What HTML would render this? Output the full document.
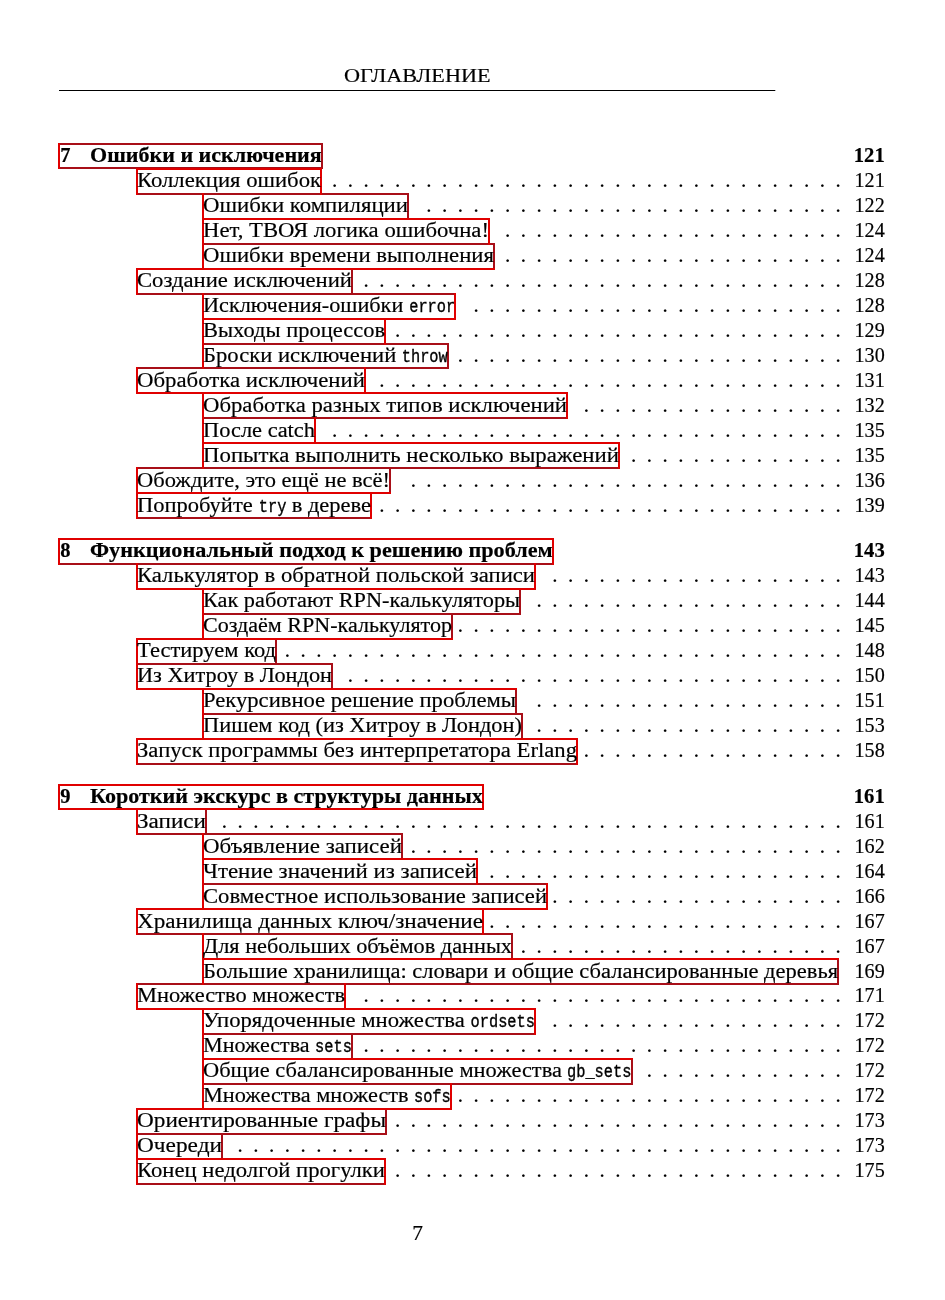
<!DOCTYPE html>
<html lang="ru"><head><meta charset="utf-8"><title>ОГЛАВЛЕНИЕ</title>
<style>
html,body{margin:0;padding:0;background:#fff;}
body{width:945px;height:1300px;position:relative;overflow:hidden;font-family:"Liberation Serif",serif;color:#000;}
.t{position:absolute;white-space:nowrap;font-size:20.5px;line-height:1;transform-origin:0 0;-webkit-text-stroke:0.18px #000;}
.b{font-weight:bold;}
.m{font-family:"Liberation Mono",monospace;font-size:17.6px;-webkit-text-stroke:0.35px #000;}
.n{position:absolute;white-space:nowrap;font-size:20.5px;line-height:1;text-align:right;transform-origin:100% 0;-webkit-text-stroke:0.18px #000;}
svg{position:absolute;left:0;top:0;mix-blend-mode:multiply;}
</style></head><body>
<div class="t" id="hdr" style="left:344.4px;top:66.02px;font-size:19.8px;transform:scaleX(1.1231)">ОГЛАВЛЕНИЕ</div>
<div class="t b" id="c0" style="left:60.20px;top:145.00px;transform:scaleX(1.0000)">7</div><div class="t b" id="r0" style="left:90.30px;top:145.00px;transform:scaleX(1.0753)">Ошибки и исключения</div><div class="n b" id="p0" style="right:60.55px;top:145.00px;transform:scaleX(1.0081)">121</div>
<div class="t" id="r1" style="left:137.00px;top:170.00px;transform:scaleX(1.1065)">Коллекция ошибок</div><div class="n" id="p1" style="right:60.10px;top:170.00px;transform:scaleX(0.9821)">121</div>
<div class="t" id="r2" style="left:203.00px;top:195.00px;transform:scaleX(1.1122)">Ошибки компиляции</div><div class="n" id="p2" style="right:60.10px;top:195.00px;transform:scaleX(0.9821)">122</div>
<div class="t" id="r3" style="left:203.00px;top:220.00px;transform:scaleX(1.1085)">Нет, ТВОЯ логика ошибочна!</div><div class="n" id="p3" style="right:60.10px;top:220.00px;transform:scaleX(0.9821)">124</div>
<div class="t" id="r4" style="left:203.00px;top:245.00px;transform:scaleX(1.1094)">Ошибки времени выполнения</div><div class="n" id="p4" style="right:60.10px;top:245.00px;transform:scaleX(0.9821)">124</div>
<div class="t" id="r5" style="left:137.00px;top:270.00px;transform:scaleX(1.1056)">Создание исключений</div><div class="n" id="p5" style="right:60.10px;top:270.00px;transform:scaleX(0.9821)">128</div>
<div class="t" id="r6" style="left:203.00px;top:295.00px;transform:scaleX(1.0852)">Исключения-ошибки <span class="m" style="display:inline-block;transform-origin:0 50%;transform:scaleX(0.8044);margin-right:-10.33px">error</span></div><div class="n" id="p6" style="right:60.10px;top:295.00px;transform:scaleX(0.9821)">128</div>
<div class="t" id="r7" style="left:203.00px;top:320.00px;transform:scaleX(1.0958)">Выходы процессов</div><div class="n" id="p7" style="right:60.10px;top:320.00px;transform:scaleX(0.9821)">129</div>
<div class="t" id="r8" style="left:203.00px;top:345.00px;transform:scaleX(1.1039)">Броски исключений <span class="m" style="display:inline-block;transform-origin:0 50%;transform:scaleX(0.7908);margin-right:-11.04px">throw</span></div><div class="n" id="p8" style="right:60.10px;top:345.00px;transform:scaleX(0.9821)">130</div>
<div class="t" id="r9" style="left:137.00px;top:370.00px;transform:scaleX(1.1124)">Обработка исключений</div><div class="n" id="p9" style="right:60.10px;top:370.00px;transform:scaleX(0.9821)">131</div>
<div class="t" id="r10" style="left:203.00px;top:395.00px;transform:scaleX(1.1082)">Обработка разных типов исключений</div><div class="n" id="p10" style="right:60.10px;top:395.00px;transform:scaleX(0.9821)">132</div>
<div class="t" id="r11" style="left:203.00px;top:420.00px;transform:scaleX(1.0940)">После catch</div><div class="n" id="p11" style="right:60.10px;top:420.00px;transform:scaleX(0.9821)">135</div>
<div class="t" id="r12" style="left:203.00px;top:445.00px;transform:scaleX(1.1129)">Попытка выполнить несколько выражений</div><div class="n" id="p12" style="right:60.10px;top:445.00px;transform:scaleX(0.9821)">135</div>
<div class="t" id="r13" style="left:137.00px;top:470.00px;transform:scaleX(1.0971)">Обождите, это ещё не всё!</div><div class="n" id="p13" style="right:60.10px;top:470.00px;transform:scaleX(0.9821)">136</div>
<div class="t" id="r14" style="left:137.00px;top:495.00px;transform:scaleX(1.0973)">Попробуйте <span class="m" style="display:inline-block;transform-origin:0 50%;transform:scaleX(0.7956);margin-right:-6.48px">try</span> в дереве</div><div class="n" id="p14" style="right:60.10px;top:495.00px;transform:scaleX(0.9821)">139</div>
<div class="t b" id="c15" style="left:60.20px;top:540.00px;transform:scaleX(1.0000)">8</div><div class="t b" id="r15" style="left:90.30px;top:540.00px;transform:scaleX(1.0831)">Функциональный подход к решению проблем</div><div class="n b" id="p15" style="right:60.55px;top:540.00px;transform:scaleX(1.0081)">143</div>
<div class="t" id="r16" style="left:137.00px;top:565.00px;transform:scaleX(1.1066)">Калькулятор в обратной польской записи</div><div class="n" id="p16" style="right:60.10px;top:565.00px;transform:scaleX(0.9821)">143</div>
<div class="t" id="r17" style="left:203.00px;top:590.00px;transform:scaleX(1.0870)">Как работают RPN-калькуляторы</div><div class="n" id="p17" style="right:60.10px;top:590.00px;transform:scaleX(0.9821)">144</div>
<div class="t" id="r18" style="left:203.00px;top:615.00px;transform:scaleX(1.0757)">Создаём RPN-калькулятор</div><div class="n" id="p18" style="right:60.10px;top:615.00px;transform:scaleX(0.9821)">145</div>
<div class="t" id="r19" style="left:137.00px;top:640.00px;transform:scaleX(1.0984)">Тестируем код</div><div class="n" id="p19" style="right:60.10px;top:640.00px;transform:scaleX(0.9821)">148</div>
<div class="t" id="r20" style="left:137.00px;top:665.00px;transform:scaleX(1.0882)">Из Хитроу в Лондон</div><div class="n" id="p20" style="right:60.10px;top:665.00px;transform:scaleX(0.9821)">150</div>
<div class="t" id="r21" style="left:203.00px;top:690.00px;transform:scaleX(1.1032)">Рекурсивное решение проблемы</div><div class="n" id="p21" style="right:60.10px;top:690.00px;transform:scaleX(0.9821)">151</div>
<div class="t" id="r22" style="left:203.00px;top:715.00px;transform:scaleX(1.0929)">Пишем код (из Хитроу в Лондон)</div><div class="n" id="p22" style="right:60.10px;top:715.00px;transform:scaleX(0.9821)">153</div>
<div class="t" id="r23" style="left:137.00px;top:740.00px;transform:scaleX(1.1063)">Запуск программы без интерпретатора Erlang</div><div class="n" id="p23" style="right:60.10px;top:740.00px;transform:scaleX(0.9821)">158</div>
<div class="t b" id="c24" style="left:60.20px;top:786.00px;transform:scaleX(1.0000)">9</div><div class="t b" id="r24" style="left:90.30px;top:786.00px;transform:scaleX(1.0769)">Короткий экскурс в структуры данных</div><div class="n b" id="p24" style="right:60.55px;top:786.00px;transform:scaleX(1.0081)">161</div>
<div class="t" id="r25" style="left:137.00px;top:811.00px;transform:scaleX(1.1288)">Записи</div><div class="n" id="p25" style="right:60.10px;top:811.00px;transform:scaleX(0.9821)">161</div>
<div class="t" id="r26" style="left:203.00px;top:836.00px;transform:scaleX(1.1183)">Объявление записей</div><div class="n" id="p26" style="right:60.10px;top:836.00px;transform:scaleX(0.9821)">162</div>
<div class="t" id="r27" style="left:203.00px;top:861.00px;transform:scaleX(1.1192)">Чтение значений из записей</div><div class="n" id="p27" style="right:60.10px;top:861.00px;transform:scaleX(0.9821)">164</div>
<div class="t" id="r28" style="left:203.00px;top:886.00px;transform:scaleX(1.1048)">Совместное использование записей</div><div class="n" id="p28" style="right:60.10px;top:886.00px;transform:scaleX(0.9821)">166</div>
<div class="t" id="r29" style="left:137.00px;top:911.00px;transform:scaleX(1.1290)">Хранилища данных ключ/значение</div><div class="n" id="p29" style="right:60.10px;top:911.00px;transform:scaleX(0.9821)">167</div>
<div class="t" id="r30" style="left:203.00px;top:936.00px;transform:scaleX(1.0867)">Для небольших объёмов данных</div><div class="n" id="p30" style="right:60.10px;top:936.00px;transform:scaleX(0.9821)">167</div>
<div class="t" id="r31" style="left:203.00px;top:961.00px;transform:scaleX(1.0974)">Большие хранилища: словари и общие сбалансированные деревья</div><div class="n" id="p31" style="right:60.10px;top:961.00px;transform:scaleX(0.9821)">169</div>
<div class="t" id="r32" style="left:137.00px;top:985.00px;transform:scaleX(1.0928)">Множество множеств</div><div class="n" id="p32" style="right:60.10px;top:985.00px;transform:scaleX(0.9821)">171</div>
<div class="t" id="r33" style="left:203.00px;top:1010.00px;transform:scaleX(1.1053)">Упорядоченные множества <span class="m" style="display:inline-block;transform-origin:0 50%;transform:scaleX(0.7898);margin-right:-15.53px">ordsets</span></div><div class="n" id="p33" style="right:60.10px;top:1010.00px;transform:scaleX(0.9821)">172</div>
<div class="t" id="r34" style="left:203.00px;top:1035.00px;transform:scaleX(1.0767)">Множества <span class="m" style="display:inline-block;transform-origin:0 50%;transform:scaleX(0.8108);margin-right:-7.99px">sets</span></div><div class="n" id="p34" style="right:60.10px;top:1035.00px;transform:scaleX(0.9821)">172</div>
<div class="t" id="r35" style="left:203.00px;top:1060.00px;transform:scaleX(1.0930)">Общие сбалансированные множества <span class="m" style="display:inline-block;transform-origin:0 50%;transform:scaleX(0.7987);margin-right:-14.88px">gb_sets</span></div><div class="n" id="p35" style="right:60.10px;top:1060.00px;transform:scaleX(0.9821)">172</div>
<div class="t" id="r36" style="left:203.00px;top:1085.00px;transform:scaleX(1.0872)">Множества множеств <span class="m" style="display:inline-block;transform-origin:0 50%;transform:scaleX(0.8029);margin-right:-8.32px">sofs</span></div><div class="n" id="p36" style="right:60.10px;top:1085.00px;transform:scaleX(0.9821)">172</div>
<div class="t" id="r37" style="left:137.00px;top:1110.00px;transform:scaleX(1.1329)">Ориентированные графы</div><div class="n" id="p37" style="right:60.10px;top:1110.00px;transform:scaleX(0.9821)">173</div>
<div class="t" id="r38" style="left:137.00px;top:1135.00px;transform:scaleX(1.1378)">Очереди</div><div class="n" id="p38" style="right:60.10px;top:1135.00px;transform:scaleX(0.9821)">173</div>
<div class="t" id="r39" style="left:137.00px;top:1160.00px;transform:scaleX(1.1064)">Конец недолгой прогулки</div><div class="n" id="p39" style="right:60.10px;top:1160.00px;transform:scaleX(0.9821)">175</div>
<div class="t" id="pg" style="left:412.2px;top:1222.59px;font-size:21.5px">7</div>
<svg width="945" height="1300" viewBox="0 0 945 1300">
<line x1="59" y1="90.45" x2="775.3" y2="90.45" stroke="#000" stroke-width="1.1"/>
<g fill="#a80f18" shape-rendering="crispEdges">
<rect x="58" y="143" width="265" height="2"/>
<rect x="58" y="167" width="265" height="2"/>
<rect x="321" y="143" width="2" height="26"/>
<rect x="136" y="193" width="186" height="2"/>
<rect x="202" y="193" width="207" height="2"/>
<rect x="407" y="193" width="2" height="27"/>
<rect x="202" y="243" width="288" height="2"/>
<rect x="202" y="243" width="293" height="2"/>
<rect x="493" y="243" width="2" height="27"/>
<rect x="136" y="293" width="217" height="2"/>
<rect x="351" y="268" width="2" height="27"/>
<rect x="202" y="293" width="254" height="2"/>
<rect x="202" y="343" width="184" height="2"/>
<rect x="202" y="343" width="247" height="2"/>
<rect x="202" y="367" width="247" height="2"/>
<rect x="447" y="343" width="2" height="26"/>
<rect x="136" y="367" width="230" height="2"/>
<rect x="202" y="417" width="366" height="2"/>
<rect x="202" y="417" width="114" height="2"/>
<rect x="202" y="467" width="418" height="2"/>
<rect x="136" y="467" width="255" height="2"/>
<rect x="389" y="467" width="2" height="27"/>
<rect x="136" y="517" width="236" height="2"/>
<rect x="58" y="563" width="496" height="2"/>
<rect x="136" y="563" width="400" height="2"/>
<rect x="202" y="613" width="319" height="2"/>
<rect x="519" y="588" width="2" height="27"/>
<rect x="202" y="613" width="251" height="2"/>
<rect x="451" y="613" width="2" height="27"/>
<rect x="136" y="663" width="141" height="2"/>
<rect x="275" y="638" width="2" height="27"/>
<rect x="136" y="663" width="197" height="2"/>
<rect x="331" y="663" width="2" height="27"/>
<rect x="202" y="713" width="315" height="2"/>
<rect x="515" y="688" width="2" height="27"/>
<rect x="202" y="713" width="321" height="2"/>
<rect x="521" y="713" width="2" height="27"/>
<rect x="136" y="763" width="442" height="2"/>
<rect x="136" y="833" width="71" height="2"/>
<rect x="205" y="808" width="2" height="27"/>
<rect x="202" y="833" width="201" height="2"/>
<rect x="401" y="833" width="2" height="27"/>
<rect x="202" y="883" width="276" height="2"/>
<rect x="202" y="883" width="346" height="2"/>
<rect x="136" y="933" width="348" height="2"/>
<rect x="202" y="933" width="311" height="2"/>
<rect x="511" y="933" width="2" height="27"/>
<rect x="202" y="983" width="637" height="2"/>
<rect x="837" y="958" width="2" height="27"/>
<rect x="136" y="983" width="210" height="2"/>
<rect x="202" y="1033" width="334" height="2"/>
<rect x="202" y="1033" width="151" height="2"/>
<rect x="351" y="1033" width="2" height="27"/>
<rect x="202" y="1083" width="431" height="2"/>
<rect x="631" y="1058" width="2" height="27"/>
<rect x="202" y="1083" width="250" height="2"/>
<rect x="136" y="1133" width="251" height="2"/>
<rect x="385" y="1108" width="2" height="27"/>
<rect x="136" y="1133" width="87" height="2"/>
<rect x="221" y="1133" width="2" height="27"/>
<rect x="136" y="1183" width="250" height="2"/>
</g>
<g fill="#e00000" shape-rendering="crispEdges">
<rect x="58" y="143" width="2" height="26"/>
<rect x="136" y="168" width="186" height="2"/>
<rect x="136" y="168" width="2" height="27"/>
<rect x="320" y="168" width="2" height="27"/>
<rect x="202" y="218" width="207" height="2"/>
<rect x="202" y="193" width="2" height="27"/>
<rect x="202" y="218" width="288" height="2"/>
<rect x="202" y="218" width="2" height="27"/>
<rect x="488" y="218" width="2" height="27"/>
<rect x="202" y="268" width="293" height="2"/>
<rect x="202" y="243" width="2" height="27"/>
<rect x="136" y="268" width="217" height="2"/>
<rect x="136" y="268" width="2" height="27"/>
<rect x="202" y="318" width="254" height="2"/>
<rect x="202" y="293" width="2" height="27"/>
<rect x="454" y="293" width="2" height="27"/>
<rect x="202" y="318" width="184" height="2"/>
<rect x="202" y="318" width="2" height="27"/>
<rect x="384" y="318" width="2" height="27"/>
<rect x="202" y="343" width="2" height="26"/>
<rect x="136" y="392" width="230" height="2"/>
<rect x="136" y="367" width="2" height="27"/>
<rect x="364" y="367" width="2" height="27"/>
<rect x="202" y="392" width="366" height="2"/>
<rect x="202" y="392" width="2" height="27"/>
<rect x="566" y="392" width="2" height="27"/>
<rect x="202" y="442" width="114" height="2"/>
<rect x="202" y="417" width="2" height="27"/>
<rect x="314" y="417" width="2" height="27"/>
<rect x="202" y="442" width="418" height="2"/>
<rect x="202" y="442" width="2" height="27"/>
<rect x="618" y="442" width="2" height="27"/>
<rect x="136" y="492" width="255" height="2"/>
<rect x="136" y="467" width="2" height="27"/>
<rect x="136" y="492" width="236" height="2"/>
<rect x="136" y="492" width="2" height="27"/>
<rect x="370" y="492" width="2" height="27"/>
<rect x="58" y="538" width="496" height="2"/>
<rect x="58" y="538" width="2" height="27"/>
<rect x="552" y="538" width="2" height="27"/>
<rect x="136" y="588" width="400" height="2"/>
<rect x="136" y="563" width="2" height="27"/>
<rect x="534" y="563" width="2" height="27"/>
<rect x="202" y="588" width="319" height="2"/>
<rect x="202" y="588" width="2" height="27"/>
<rect x="202" y="638" width="251" height="2"/>
<rect x="202" y="613" width="2" height="27"/>
<rect x="136" y="638" width="141" height="2"/>
<rect x="136" y="638" width="2" height="27"/>
<rect x="136" y="688" width="197" height="2"/>
<rect x="136" y="663" width="2" height="27"/>
<rect x="202" y="688" width="315" height="2"/>
<rect x="202" y="688" width="2" height="27"/>
<rect x="202" y="738" width="321" height="2"/>
<rect x="202" y="713" width="2" height="27"/>
<rect x="136" y="738" width="442" height="2"/>
<rect x="136" y="738" width="2" height="27"/>
<rect x="576" y="738" width="2" height="27"/>
<rect x="58" y="784" width="426" height="2"/>
<rect x="58" y="808" width="426" height="2"/>
<rect x="58" y="784" width="2" height="26"/>
<rect x="482" y="784" width="2" height="26"/>
<rect x="136" y="808" width="71" height="2"/>
<rect x="136" y="808" width="2" height="27"/>
<rect x="202" y="858" width="201" height="2"/>
<rect x="202" y="833" width="2" height="27"/>
<rect x="202" y="858" width="276" height="2"/>
<rect x="202" y="858" width="2" height="27"/>
<rect x="476" y="858" width="2" height="27"/>
<rect x="202" y="908" width="346" height="2"/>
<rect x="202" y="883" width="2" height="27"/>
<rect x="546" y="883" width="2" height="27"/>
<rect x="136" y="908" width="348" height="2"/>
<rect x="136" y="908" width="2" height="27"/>
<rect x="482" y="908" width="2" height="27"/>
<rect x="202" y="958" width="311" height="2"/>
<rect x="202" y="933" width="2" height="27"/>
<rect x="202" y="958" width="637" height="2"/>
<rect x="202" y="958" width="2" height="27"/>
<rect x="136" y="1008" width="210" height="2"/>
<rect x="136" y="983" width="2" height="27"/>
<rect x="344" y="983" width="2" height="27"/>
<rect x="202" y="1008" width="334" height="2"/>
<rect x="202" y="1008" width="2" height="27"/>
<rect x="534" y="1008" width="2" height="27"/>
<rect x="202" y="1058" width="151" height="2"/>
<rect x="202" y="1033" width="2" height="27"/>
<rect x="202" y="1058" width="431" height="2"/>
<rect x="202" y="1058" width="2" height="27"/>
<rect x="202" y="1108" width="250" height="2"/>
<rect x="202" y="1083" width="2" height="27"/>
<rect x="450" y="1083" width="2" height="27"/>
<rect x="136" y="1108" width="251" height="2"/>
<rect x="136" y="1108" width="2" height="27"/>
<rect x="136" y="1158" width="87" height="2"/>
<rect x="136" y="1133" width="2" height="27"/>
<rect x="136" y="1158" width="250" height="2"/>
<rect x="136" y="1158" width="2" height="27"/>
<rect x="384" y="1158" width="2" height="27"/>
</g>
<g font-family="Liberation Serif, serif" font-size="23" fill="#000">
<text y="187.30" x="331.71 347.44 363.18 378.91 394.65 410.38 426.12 441.85 457.59 473.32 489.06 504.79 520.53 536.26 552.00 567.73 583.47 599.20 614.94 630.67 646.40 662.14 677.88 693.61 709.35 725.08 740.82 756.55 772.29 788.02 803.75 819.49 835.23">.................................</text>
<text y="212.30" x="426.12 441.85 457.59 473.32 489.06 504.79 520.53 536.26 552.00 567.73 583.47 599.20 614.94 630.67 646.40 662.14 677.88 693.61 709.35 725.08 740.82 756.55 772.29 788.02 803.75 819.49 835.23">...........................</text>
<text y="237.30" x="504.79 520.53 536.26 552.00 567.73 583.47 599.20 614.94 630.67 646.40 662.14 677.88 693.61 709.35 725.08 740.82 756.55 772.29 788.02 803.75 819.49 835.23">......................</text>
<text y="262.30" x="504.79 520.53 536.26 552.00 567.73 583.47 599.20 614.94 630.67 646.40 662.14 677.88 693.61 709.35 725.08 740.82 756.55 772.29 788.02 803.75 819.49 835.23">......................</text>
<text y="287.30" x="363.18 378.91 394.65 410.38 426.12 441.85 457.59 473.32 489.06 504.79 520.53 536.26 552.00 567.73 583.47 599.20 614.94 630.67 646.40 662.14 677.88 693.61 709.35 725.08 740.82 756.55 772.29 788.02 803.75 819.49 835.23">...............................</text>
<text y="312.30" x="473.32 489.06 504.79 520.53 536.26 552.00 567.73 583.47 599.20 614.94 630.67 646.40 662.14 677.88 693.61 709.35 725.08 740.82 756.55 772.29 788.02 803.75 819.49 835.23">........................</text>
<text y="337.30" x="394.65 410.38 426.12 441.85 457.59 473.32 489.06 504.79 520.53 536.26 552.00 567.73 583.47 599.20 614.94 630.67 646.40 662.14 677.88 693.61 709.35 725.08 740.82 756.55 772.29 788.02 803.75 819.49 835.23">.............................</text>
<text y="362.30" x="457.59 473.32 489.06 504.79 520.53 536.26 552.00 567.73 583.47 599.20 614.94 630.67 646.40 662.14 677.88 693.61 709.35 725.08 740.82 756.55 772.29 788.02 803.75 819.49 835.23">.........................</text>
<text y="387.30" x="378.91 394.65 410.38 426.12 441.85 457.59 473.32 489.06 504.79 520.53 536.26 552.00 567.73 583.47 599.20 614.94 630.67 646.40 662.14 677.88 693.61 709.35 725.08 740.82 756.55 772.29 788.02 803.75 819.49 835.23">..............................</text>
<text y="412.30" x="583.47 599.20 614.94 630.67 646.40 662.14 677.88 693.61 709.35 725.08 740.82 756.55 772.29 788.02 803.75 819.49 835.23">.................</text>
<text y="437.30" x="331.71 347.44 363.18 378.91 394.65 410.38 426.12 441.85 457.59 473.32 489.06 504.79 520.53 536.26 552.00 567.73 583.47 599.20 614.94 630.67 646.40 662.14 677.88 693.61 709.35 725.08 740.82 756.55 772.29 788.02 803.75 819.49 835.23">.................................</text>
<text y="462.30" x="630.67 646.40 662.14 677.88 693.61 709.35 725.08 740.82 756.55 772.29 788.02 803.75 819.49 835.23">..............</text>
<text y="487.30" x="410.38 426.12 441.85 457.59 473.32 489.06 504.79 520.53 536.26 552.00 567.73 583.47 599.20 614.94 630.67 646.40 662.14 677.88 693.61 709.35 725.08 740.82 756.55 772.29 788.02 803.75 819.49 835.23">............................</text>
<text y="512.30" x="378.91 394.65 410.38 426.12 441.85 457.59 473.32 489.06 504.79 520.53 536.26 552.00 567.73 583.47 599.20 614.94 630.67 646.40 662.14 677.88 693.61 709.35 725.08 740.82 756.55 772.29 788.02 803.75 819.49 835.23">..............................</text>
<text y="582.30" x="552.00 567.73 583.47 599.20 614.94 630.67 646.40 662.14 677.88 693.61 709.35 725.08 740.82 756.55 772.29 788.02 803.75 819.49 835.23">...................</text>
<text y="607.30" x="536.26 552.00 567.73 583.47 599.20 614.94 630.67 646.40 662.14 677.88 693.61 709.35 725.08 740.82 756.55 772.29 788.02 803.75 819.49 835.23">....................</text>
<text y="632.30" x="457.59 473.32 489.06 504.79 520.53 536.26 552.00 567.73 583.47 599.20 614.94 630.67 646.40 662.14 677.88 693.61 709.35 725.08 740.82 756.55 772.29 788.02 803.75 819.49 835.23">.........................</text>
<text y="657.30" x="284.50 300.24 315.97 331.71 347.44 363.18 378.91 394.65 410.38 426.12 441.85 457.59 473.32 489.06 504.79 520.53 536.26 552.00 567.73 583.47 599.20 614.94 630.67 646.40 662.14 677.88 693.61 709.35 725.08 740.82 756.55 772.29 788.02 803.75 819.49 835.23">....................................</text>
<text y="682.30" x="347.44 363.18 378.91 394.65 410.38 426.12 441.85 457.59 473.32 489.06 504.79 520.53 536.26 552.00 567.73 583.47 599.20 614.94 630.67 646.40 662.14 677.88 693.61 709.35 725.08 740.82 756.55 772.29 788.02 803.75 819.49 835.23">................................</text>
<text y="707.30" x="536.26 552.00 567.73 583.47 599.20 614.94 630.67 646.40 662.14 677.88 693.61 709.35 725.08 740.82 756.55 772.29 788.02 803.75 819.49 835.23">....................</text>
<text y="732.30" x="536.26 552.00 567.73 583.47 599.20 614.94 630.67 646.40 662.14 677.88 693.61 709.35 725.08 740.82 756.55 772.29 788.02 803.75 819.49 835.23">....................</text>
<text y="757.30" x="583.47 599.20 614.94 630.67 646.40 662.14 677.88 693.61 709.35 725.08 740.82 756.55 772.29 788.02 803.75 819.49 835.23">.................</text>
<text y="828.30" x="221.56 237.30 253.03 268.76 284.50 300.24 315.97 331.71 347.44 363.18 378.91 394.65 410.38 426.12 441.85 457.59 473.32 489.06 504.79 520.53 536.26 552.00 567.73 583.47 599.20 614.94 630.67 646.40 662.14 677.88 693.61 709.35 725.08 740.82 756.55 772.29 788.02 803.75 819.49 835.23">........................................</text>
<text y="853.30" x="410.38 426.12 441.85 457.59 473.32 489.06 504.79 520.53 536.26 552.00 567.73 583.47 599.20 614.94 630.67 646.40 662.14 677.88 693.61 709.35 725.08 740.82 756.55 772.29 788.02 803.75 819.49 835.23">............................</text>
<text y="878.30" x="489.06 504.79 520.53 536.26 552.00 567.73 583.47 599.20 614.94 630.67 646.40 662.14 677.88 693.61 709.35 725.08 740.82 756.55 772.29 788.02 803.75 819.49 835.23">.......................</text>
<text y="903.30" x="552.00 567.73 583.47 599.20 614.94 630.67 646.40 662.14 677.88 693.61 709.35 725.08 740.82 756.55 772.29 788.02 803.75 819.49 835.23">...................</text>
<text y="928.30" x="489.06 504.79 520.53 536.26 552.00 567.73 583.47 599.20 614.94 630.67 646.40 662.14 677.88 693.61 709.35 725.08 740.82 756.55 772.29 788.02 803.75 819.49 835.23">.......................</text>
<text y="953.30" x="520.53 536.26 552.00 567.73 583.47 599.20 614.94 630.67 646.40 662.14 677.88 693.61 709.35 725.08 740.82 756.55 772.29 788.02 803.75 819.49 835.23">.....................</text>
<text y="1002.30" x="363.18 378.91 394.65 410.38 426.12 441.85 457.59 473.32 489.06 504.79 520.53 536.26 552.00 567.73 583.47 599.20 614.94 630.67 646.40 662.14 677.88 693.61 709.35 725.08 740.82 756.55 772.29 788.02 803.75 819.49 835.23">...............................</text>
<text y="1027.30" x="552.00 567.73 583.47 599.20 614.94 630.67 646.40 662.14 677.88 693.61 709.35 725.08 740.82 756.55 772.29 788.02 803.75 819.49 835.23">...................</text>
<text y="1052.30" x="363.18 378.91 394.65 410.38 426.12 441.85 457.59 473.32 489.06 504.79 520.53 536.26 552.00 567.73 583.47 599.20 614.94 630.67 646.40 662.14 677.88 693.61 709.35 725.08 740.82 756.55 772.29 788.02 803.75 819.49 835.23">...............................</text>
<text y="1077.30" x="646.40 662.14 677.88 693.61 709.35 725.08 740.82 756.55 772.29 788.02 803.75 819.49 835.23">.............</text>
<text y="1102.30" x="457.59 473.32 489.06 504.79 520.53 536.26 552.00 567.73 583.47 599.20 614.94 630.67 646.40 662.14 677.88 693.61 709.35 725.08 740.82 756.55 772.29 788.02 803.75 819.49 835.23">.........................</text>
<text y="1127.30" x="394.65 410.38 426.12 441.85 457.59 473.32 489.06 504.79 520.53 536.26 552.00 567.73 583.47 599.20 614.94 630.67 646.40 662.14 677.88 693.61 709.35 725.08 740.82 756.55 772.29 788.02 803.75 819.49 835.23">.............................</text>
<text y="1152.30" x="237.30 253.03 268.76 284.50 300.24 315.97 331.71 347.44 363.18 378.91 394.65 410.38 426.12 441.85 457.59 473.32 489.06 504.79 520.53 536.26 552.00 567.73 583.47 599.20 614.94 630.67 646.40 662.14 677.88 693.61 709.35 725.08 740.82 756.55 772.29 788.02 803.75 819.49 835.23">.......................................</text>
<text y="1177.30" x="394.65 410.38 426.12 441.85 457.59 473.32 489.06 504.79 520.53 536.26 552.00 567.73 583.47 599.20 614.94 630.67 646.40 662.14 677.88 693.61 709.35 725.08 740.82 756.55 772.29 788.02 803.75 819.49 835.23">.............................</text>
</g>
</svg>
</body></html>
